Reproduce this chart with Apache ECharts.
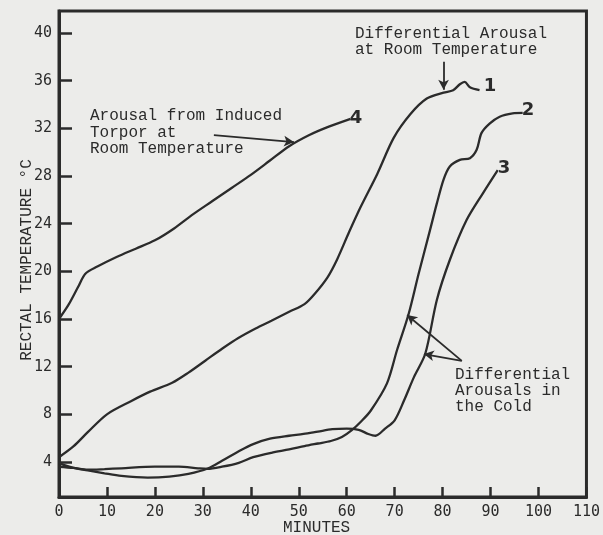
<!DOCTYPE html>
<html>
<head>
<meta charset="utf-8">
<script src="https://cdn.jsdelivr.net/npm/echarts@6/dist/echarts.min.js"></script>
<style>
html,body{margin:0;padding:0;background:#ececea;}
#chart{width:603px;height:535px;}
</style>
</head>
<body>
<div id="chart"></div>
<script>
// ---- data ----
const minutesC1 = [0,3,6,10,15,19,23.6,27,30.5,34,37.4,41,44.3,48,51.2,53.3,56,58,60.5,62.9,66.4,69.8,73.3,76.7,80.2,82.2,83.6,84.6,85.7,87.7];
const tempC1    = [4.4,5.3,6.5,8.0,9.1,9.9,10.65,11.5,12.5,13.5,14.4,15.2,15.85,16.6,17.25,18.1,19.5,21.0,23.3,25.4,28.2,31.2,33.2,34.5,35.0,35.2,35.7,35.9,35.45,35.2];

const minutesC2 = [0,3,6,9.5,13,20,25,29,31,34,37.5,40.5,44.3,48,51.2,54,56.7,59,61,63,65,68.4,70.5,72.9,75,77.4,78.8,80.2,81.5,83.6,85.7,87.1,88.1,89.8,91.9,94.6,96.7];
const tempC2    = [3.6,3.5,3.35,3.4,3.47,3.61,3.61,3.47,3.42,3.6,3.93,4.4,4.77,5.05,5.33,5.55,5.76,6.1,6.65,7.4,8.3,10.6,13.4,16.4,19.8,23.5,25.7,27.7,28.8,29.35,29.5,30.2,31.6,32.4,32.98,33.26,33.3];

const minutesC3 = [0,3,6,9.5,13,18.5,23,27,31,34,37.5,40.5,44,48,51,54,57,60,62.5,64.5,66,68,70,72,74,76.4,78.8,81.5,85,88.4,91.5];
const tempC3    = [3.9,3.5,3.3,3.05,2.83,2.69,2.77,3.0,3.45,4.1,4.9,5.5,5.95,6.2,6.35,6.55,6.75,6.8,6.7,6.35,6.2,6.8,7.5,9.2,11.1,13.1,17.6,20.95,24.3,26.55,28.5];

const minutesC4 = [0,2,4,5.5,8,12,16,20,24,28,32,36,40,44,48,52,56,60.8];
const tempC4    = [16.0,17.2,18.7,19.8,20.4,21.2,21.9,22.6,23.6,24.8,25.9,27.0,28.1,29.3,30.5,31.4,32.1,32.8];

const yTickValues = [4,8,12,16,20,24,28,32,36,40];
const curveNames = ['1','2','3','4'];

// annotation arrows [from, to] in data units
const arrowTorpor = [[32.3,31.44],[49.0,30.85]];
const arrowRoom   = [[80.2,37.6],[80.2,35.25]];
const arrowCold2  = [[84.0,12.48],[72.6,16.34]];
const arrowCold3  = [[84.0,12.48],[76.1,13.06]];

const ink = '#2b2b2b';
const mono = '"Liberation Mono", "DejaVu Sans Mono", monospace';
const tickFont = '"DejaVu Sans Mono", monospace';

function pairs(xs, ys){ return xs.map((x,i)=>[x, ys[i]]); }

function arrowLine(a){
  return [{coord:a[0], symbol:'none'}, {coord:a[1], symbol:'arrow'}];
}

const chart = echarts.init(document.getElementById('chart'));
const lineStyle = {color: ink, width: 2.3};
const baseSeries = (name, data) => ({
  name, type:'line', data, showSymbol:false, symbol:'none', smooth:0.3,
  lineStyle, silent:true, z:3
});

const s4 = baseSeries(curveNames[3], pairs(minutesC4, tempC4));
s4.markLine = {
  silent:true, symbolSize:[8,10], animation:false,
  lineStyle:{color:ink, width:1.8, type:'solid'},
  label:{show:false},
  data:[arrowLine(arrowTorpor), arrowLine(arrowRoom), arrowLine(arrowCold2), arrowLine(arrowCold3)]
};

const option = {
  backgroundColor:'#ececea',
  animation:false,
  grid:{left:59, right:12, top:11, bottom:38, show:true, borderColor:ink, borderWidth:3, backgroundColor:'transparent'},
  xAxis:{
    type:'value', min:0, max:110, interval:10,
    axisLine:{show:true, lineStyle:{color:ink, width:3}},
    axisTick:{show:true, inside:true, length:10, lineStyle:{color:ink, width:2.5}},
    axisLabel:{color:ink, fontFamily:tickFont, fontSize:15, margin:8},
    splitLine:{show:false}
  },
  yAxis:{
    type:'value', min:1.06, max:41.85,
    axisLine:{show:true, lineStyle:{color:ink, width:3}},
    axisTick:{show:true, inside:true, length:13, customValues:yTickValues, lineStyle:{color:ink, width:2.5}},
    axisLabel:{color:ink, fontFamily:tickFont, fontSize:15, margin:7, customValues:yTickValues},
    splitLine:{show:false}
  },
  series:[
    baseSeries(curveNames[0], pairs(minutesC1, tempC1)),
    baseSeries(curveNames[1], pairs(minutesC2, tempC2)),
    baseSeries(curveNames[2], pairs(minutesC3, tempC3)),
    s4
  ],
  graphic:[
    {type:'text', x:27, y:260, rotation:Math.PI/2, style:{text:'RECTAL TEMPERATURE °C', font:'16px '+mono, fill:ink, align:'center', verticalAlign:'middle'}},
    {type:'text', left:90, top:108, style:{text:'Arousal from Induced\nTorpor at\nRoom Temperature', font:'16px '+mono, fill:ink, lineHeight:16.3}},
    {type:'text', left:355, top:26, style:{text:'Differential Arousal\nat Room Temperature', font:'16px '+mono, fill:ink, lineHeight:16}},
    {type:'text', left:455, top:367, style:{text:'Differential\nArousals in\nthe Cold', font:'16px '+mono, fill:ink, lineHeight:15.7}},
    {type:'text', left:283, top:520, style:{text:'MINUTES', font:'16px '+mono, fill:ink}},
    {type:'text', x:490, y:86, style:{text:'1', font:'bold 18px "DejaVu Sans", sans-serif', fill:ink, align:'center', verticalAlign:'middle'}},
    {type:'text', x:528, y:110, style:{text:'2', font:'bold 18px "DejaVu Sans", sans-serif', fill:ink, align:'center', verticalAlign:'middle'}},
    {type:'text', x:504, y:168, style:{text:'3', font:'bold 18px "DejaVu Sans", sans-serif', fill:ink, align:'center', verticalAlign:'middle'}},
    {type:'text', x:356, y:118, style:{text:'4', font:'bold 18px "DejaVu Sans", sans-serif', fill:ink, align:'center', verticalAlign:'middle'}}
  ]
};
chart.setOption(option);
</script>
</body>
</html>
